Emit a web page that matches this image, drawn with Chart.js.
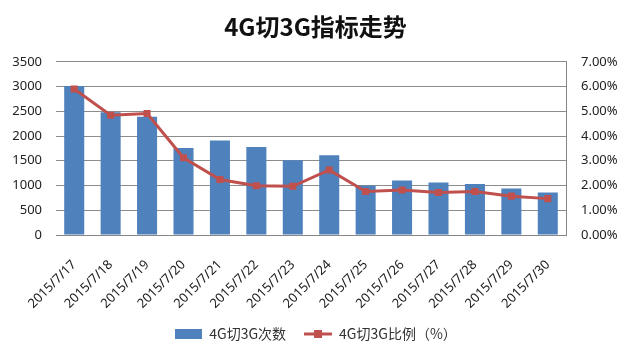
<!DOCTYPE html>
<html>
<head>
<meta charset="utf-8">
<script src="https://cdn.jsdelivr.net/npm/chart.js@4/dist/chart.umd.min.js"></script>
<style>
  html, body { margin: 0; padding: 0; background: #fff; }
  #wrap { width: 631px; height: 352px; }
</style>
</head>
<body>
<div id="wrap"><canvas id="chart" width="631" height="352"></canvas></div>
<script>
// Data
const categories = ['2015/7/17', '2015/7/18', '2015/7/19', '2015/7/20', '2015/7/21', '2015/7/22', '2015/7/23',
  '2015/7/24', '2015/7/25', '2015/7/26', '2015/7/27', '2015/7/28', '2015/7/29', '2015/7/30'];
const switchCounts = [3010, 2480, 2390, 1760, 1910, 1780, 1510, 1610, 1000, 1100, 1060, 1030, 940, 860];
const switchRatio = [5.90, 4.84, 4.91, 3.12, 2.24, 1.99, 1.97, 2.63, 1.76, 1.82, 1.72, 1.76, 1.57, 1.47];
const seriesNames = ['4G切3G次数', '4G切3G比例（%）'];

const BLUE = '#4f81bd';
const RED = '#c0504d';
const FONT = "'Noto Sans', 'Noto Sans CJK SC', sans-serif";

// Legend swatches as small canvases
function barSwatch() {
  const c = document.createElement('canvas');
  c.width = 27; c.height = 10;
  const g = c.getContext('2d');
  g.fillStyle = BLUE;
  g.fillRect(0, 0, 27, 10);
  return c;
}
function lineSwatch() {
  const c = document.createElement('canvas');
  c.width = 28; c.height = 10;
  const g = c.getContext('2d');
  g.strokeStyle = RED;
  g.lineWidth = 3;
  g.beginPath(); g.moveTo(0, 5); g.lineTo(28, 5); g.stroke();
  g.fillStyle = RED;
  g.fillRect(10, 1, 8, 8);
  return c;
}

const ctx = document.getElementById('chart').getContext('2d');
new Chart(ctx, {
  data: {
    labels: categories,
    datasets: [{
      type: 'bar',
      label: seriesNames[0],
      data: switchCounts,
      yAxisID: 'y',
      backgroundColor: BLUE,
      categoryPercentage: 1,
      barPercentage: 0.55,
      order: 1
    }, {
      type: 'line',
      label: seriesNames[1],
      data: switchRatio,
      yAxisID: 'y2',
      borderColor: RED,
      borderWidth: 3,
      backgroundColor: RED,
      pointStyle: 'rect',
      pointRadius: 5,
      pointBorderWidth: 0,
      tension: 0,
      order: 0
    }]
  },
  options: {
    responsive: false,
    animation: false,
    layout: { padding: { left: 0, right: 0, top: 0, bottom: 1 } },
    plugins: {
      title: {
        display: true,
        text: '4G切3G指标走势',
        color: '#111',
        font: { family: "'Noto Sans CJK SC', sans-serif", size: 24, weight: 'bold' },
        padding: { top: 12, bottom: 21 }
      },
      legend: {
        position: 'bottom',
        labels: {
          color: '#333',
          font: { family: "'Noto Sans CJK SC', sans-serif", size: 14 },
          usePointStyle: true,
          pointStyleWidth: 28,
          padding: 18,
          generateLabels: (chart) => chart.data.datasets.map((ds, i) => ({
            text: ds.label,
            pointStyle: i === 0 ? barSwatch() : lineSwatch(),
            fillStyle: 'transparent',
            strokeStyle: 'transparent',
            lineWidth: 0,
            fontColor: '#333',
            datasetIndex: i
          }))
        }
      },
      tooltip: { enabled: false }
    },
    scales: {
      x: {
        grid: { display: false },
        border: { color: '#868686' },
        ticks: {
          color: '#222',
          font: { family: FONT, size: 13 },
          minRotation: 45,
          maxRotation: 45,
          padding: 14
        },
        afterFit: (scale) => { scale.height = 74; }
      },
      y: {
        position: 'left',
        min: 0,
        max: 3500,
        grid: { color: '#8c8c8c', drawTicks: false },
        border: { display: false },
        ticks: {
          stepSize: 500,
          color: '#222',
          font: { family: FONT, size: 13 },
          padding: 14,
          callback: (v) => String(v)
        },
        afterFit: (scale) => { scale.width = 56; }
      },
      y2: {
        position: 'right',
        min: 0,
        max: 7,
        grid: { display: false, drawOnChartArea: false, drawTicks: true, tickLength: 4, color: '#868686' },
        border: { display: true, color: '#868686' },
        ticks: {
          stepSize: 1,
          color: '#222',
          font: { family: FONT, size: 13 },
          padding: 11,
          callback: (v) => v.toFixed(2) + '%'
        },
        afterFit: (scale) => { scale.width = 65; }
      }
    }
  }
});
</script>
</body>
</html>
